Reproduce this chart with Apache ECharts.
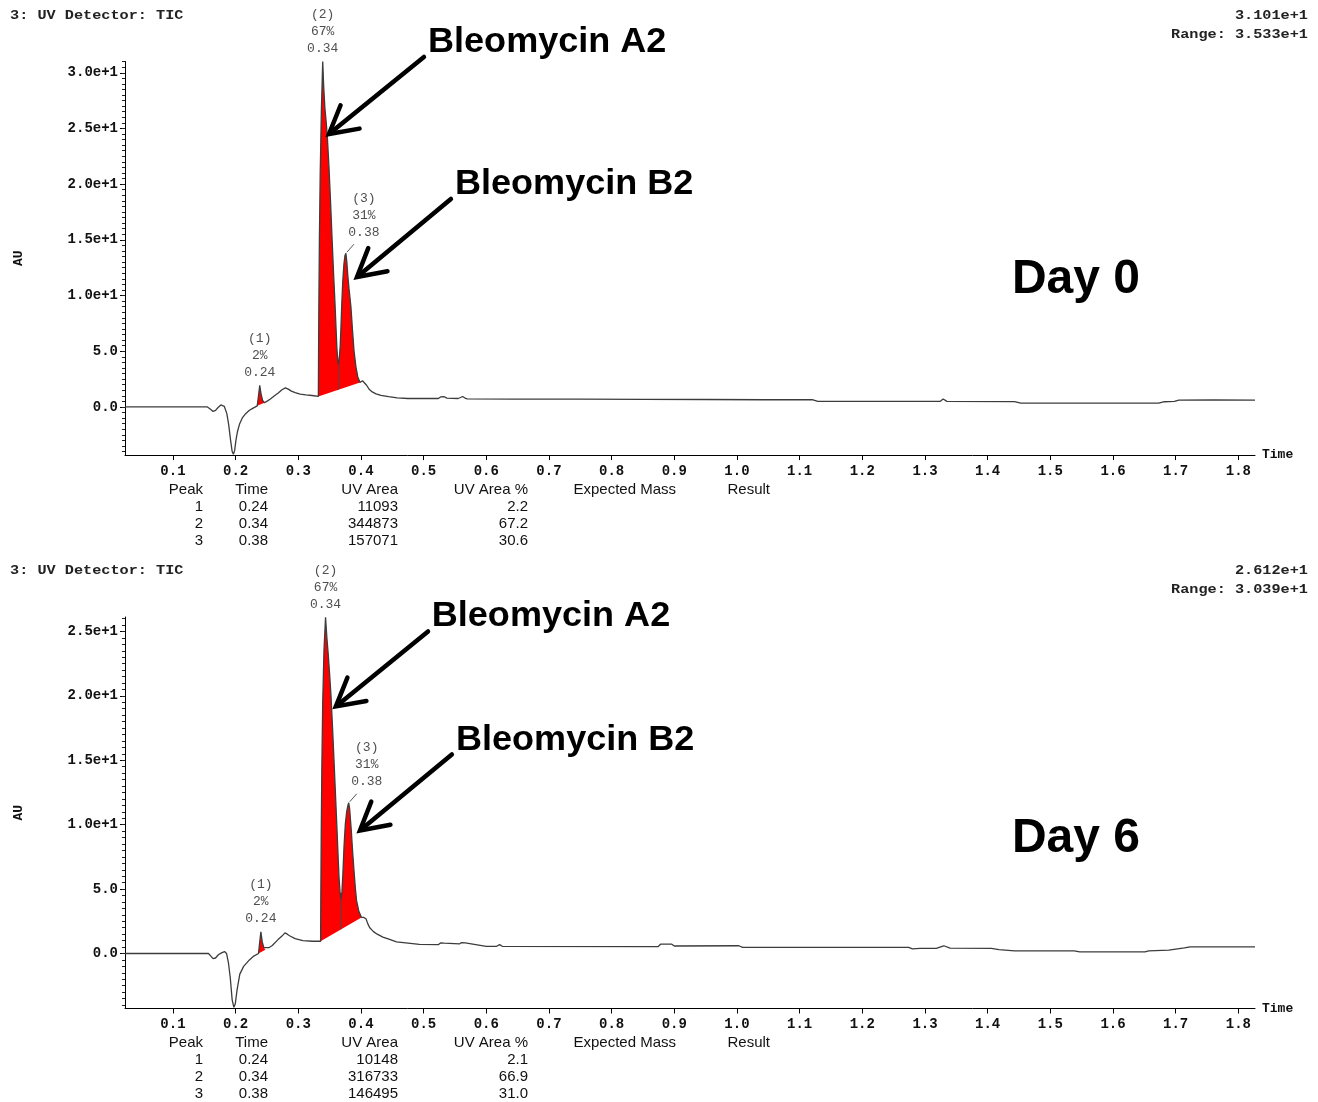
<!DOCTYPE html>
<html><head><meta charset="utf-8">
<script src="https://cdn.jsdelivr.net/npm/echarts@6/dist/echarts.min.js"></script>
<style>html,body{margin:0;padding:0;background:#fff}#c{width:1318px;height:1102px}</style>
</head><body><div id="c"></div><script>
// ---------------- DATA ----------------
const xTickValues = [0.1,0.2,0.3,0.4,0.5,0.6,0.7,0.8,0.9,1.0,1.1,1.2,1.3,1.4,1.5,1.6,1.7,1.8];
const xTickLabels = ['0.1','0.2','0.3','0.4','0.5','0.6','0.7','0.8','0.9','1.0','1.1','1.2','1.3','1.4','1.5','1.6','1.7','1.8'];
const timeMin = 0.0235, timeMax = 1.8266;

const day0YTickValues = [0,5,10,15,20,25,30];
const day0YTickLabels = ['0.0','5.0','1.0e+1','1.5e+1','2.0e+1','2.5e+1','3.0e+1'];
const day6YTickValues = [0,5,10,15,20,25];
const day6YTickLabels = ['0.0','5.0','1.0e+1','1.5e+1','2.0e+1','2.5e+1'];
const day0YMin = -4.32, day0YMax = 31.01;
const day6YMin = -4.27, day6YMax = 26.12;

const day0Trace = [
[0.0235,0.0],[0.068,0.0],[0.0695,0.12],[0.071,0.0],[0.155,0.0],[0.160,-0.2],[0.164,-0.4],[0.168,-0.3],
[0.172,-0.05],[0.1765,0.18],[0.179,0.2],[0.182,0.05],[0.186,-0.6],[0.189,-1.6],[0.192,-3.0],[0.1945,-4.0],
[0.1965,-4.25],[0.1985,-3.9],[0.2005,-3.0],[0.203,-2.2],[0.2065,-1.5],[0.211,-0.95],[0.216,-0.6],[0.222,-0.3],
[0.228,-0.1],[0.2345,0.1],[0.2365,1.0],[0.2385,1.95],[0.2405,1.2],[0.243,0.6],[0.246,0.38],[0.251,0.55],
[0.2555,0.72],[0.262,1.0],[0.268,1.25],[0.274,1.55],[0.2795,1.72],[0.284,1.6],[0.289,1.42],[0.295,1.28],
[0.303,1.15],[0.312,1.08],[0.322,1.03],[0.332,0.95],[0.3323,4.0],[0.3328,9.0],[0.3337,15.0],[0.335,21.0],
[0.3368,26.5],[0.339,31.0],[0.3405,28.8],[0.3425,26.8],[0.3445,25.6],[0.3464,24.2],[0.349,21.5],[0.3515,18.4],
[0.354,15.0],[0.3563,12.0],[0.3585,9.4],[0.3603,7.0],[0.3617,5.2],[0.363,4.2],[0.364,3.8],[0.3655,4.4],
[0.3668,5.4],[0.368,7.0],[0.3695,9.4],[0.371,11.3],[0.3728,12.8],[0.3745,13.6],[0.376,13.8],[0.3775,13.0],
[0.379,11.8],[0.381,10.6],[0.384,9.0],[0.3865,6.9],[0.389,5.0],[0.392,3.6],[0.395,2.7],[0.3985,2.2],
[0.4025,2.35],[0.4055,2.35],[0.409,1.95],[0.413,1.6],[0.418,1.35],
[0.424,1.18],[0.432,1.05],[0.444,0.93],[0.458,0.82],[0.475,0.76],[0.5235,0.76],[0.527,0.9],[0.53,1.06],
[0.533,0.92],[0.537,0.8],[0.555,0.76],[0.559,0.85],[0.5622,0.94],[0.566,0.8],[0.5695,0.73],[0.65,0.71],
[0.75,0.7],[0.85,0.68],[0.95,0.67],[1.045,0.65],[1.047,0.58],[1.05,0.65],[1.12,0.65],[1.129,0.5],
[1.324,0.5],[1.329,0.72],[1.335,0.5],[1.443,0.48],[1.453,0.35],[1.673,0.35],[1.682,0.47],[1.698,0.5],
[1.705,0.62],[1.76,0.63],[1.8266,0.62]
];

const day6Trace = [
[0.0235,0.0],[0.1567,0.0],[0.1605,-0.2],[0.164,-0.4],[0.168,-0.35],[0.1725,-0.1],[0.1775,0.05],[0.1823,0.15],
[0.1855,0.0],[0.1885,-0.7],[0.1915,-1.9],[0.1945,-3.6],[0.1972,-4.18],[0.1995,-3.9],[0.2024,-2.8],[0.2067,-1.6],
[0.2128,-1.0],[0.222,-0.5],[0.229,-0.2],[0.2365,0.0],[0.2385,0.9],[0.2403,1.68],[0.2425,0.9],[0.245,0.45],
[0.2475,0.3],[0.253,0.45],[0.2585,0.62],[0.2677,1.08],[0.274,1.35],[0.2787,1.6],[0.2825,1.5],[0.286,1.38],
[0.295,1.15],[0.3073,1.0],[0.3226,0.95],[0.3356,0.95],[0.336,4.5],[0.3366,9.0],[0.3376,14.5],[0.339,19.5],
[0.341,23.5],[0.3435,26.1],[0.3455,24.6],[0.3478,23.2],[0.35,21.7],[0.3522,20.0],[0.3546,17.6],[0.357,15.0],
[0.3594,12.3],[0.3618,9.6],[0.3635,7.6],[0.365,5.9],[0.3666,4.8],[0.3682,4.2],[0.3697,4.8],[0.3712,6.2],
[0.373,8.3],[0.375,10.0],[0.3772,11.0],[0.3792,11.5],[0.3805,11.7],[0.382,11.2],[0.3845,9.6],[0.3866,8.0],
[0.3888,6.5],[0.391,5.1],[0.393,4.1],[0.3965,3.3],[0.4008,2.8],[0.404,2.8],[0.408,2.7],
[0.411,2.3],[0.414,2.0],[0.42,1.7],[0.426,1.5],[0.435,1.27],[0.4445,1.12],[0.4567,0.9],[0.4933,0.7],
[0.5238,0.69],[0.527,0.82],[0.53,0.92],[0.533,0.8],[0.536,0.74],[0.557,0.74],[0.5605,0.85],[0.5634,0.95],
[0.5665,0.82],[0.5695,0.74],[0.6,0.56],[0.6165,0.56],[0.6213,0.69],[0.6255,0.56],[0.6274,0.53],[0.874,0.53],
[0.878,0.72],[0.896,0.72],[0.9,0.58],[1.003,0.6],[1.009,0.47],[1.274,0.47],[1.28,0.36],[1.292,0.4],
[1.318,0.4],[1.33,0.6],[1.34,0.42],[1.406,0.4],[1.418,0.3],[1.443,0.21],[1.538,0.21],[1.547,0.13],
[1.651,0.13],[1.657,0.21],[1.689,0.26],[1.714,0.44],[1.723,0.52],[1.8266,0.52]
];

// integrated peaks (start / end of the red areas, drop line at valley)
const day0FillStart = [0.2345, 0.332];
const day0FillEnd = [0.246, 0.3985];
const day0Dividers = [0.364];
const day6FillStart = [0.2365, 0.3356];
const day6FillEnd = [0.2475, 0.4008];
const day6Dividers = [0.3682];

// peak apex labels
const day0PeakTimes = [0.2385, 0.339, 0.376];
const day0PeakHeights = [1.95, 31.0, 13.8];
const day6PeakTimes = [0.2403, 0.3435, 0.3805];
const day6PeakHeights = [1.68, 26.1, 11.7];
const peakNums = ['(1)','(2)','(3)'];
const day0PeakPct = ['2%','67%','31%'];
const day6PeakPct = ['2%','67%','31%'];
const peakRT = ['0.24','0.34','0.38'];

// results tables
const tableHeaders = ['Peak','Time','UV Area','UV Area %','Expected Mass','Result'];
const tablePeak = ['1','2','3'];
const day0TableTime = ['0.24','0.34','0.38'];
const day0TableArea = ['11093','344873','157071'];
const day0TablePct = ['2.2','67.2','30.6'];
const day6TableTime = ['0.24','0.34','0.38'];
const day6TableArea = ['10148','316733','146495'];
const day6TablePct = ['2.1','66.9','31.0'];

const detectorTitle = '3: UV Detector: TIC';
const day0TopValue = '3.101e+1', day0Range = 'Range: 3.533e+1';
const day6TopValue = '2.612e+1', day6Range = 'Range: 3.039e+1';
const compoundA = 'Bleomycin A2', compoundB = 'Bleomycin B2';
const dayLabels = ['Day 0', 'Day 6'];

// ---------------- CHART ----------------
const MONO = '"Liberation Mono", "DejaVu Sans Mono", monospace';
const SANS = '"Liberation Sans", Arial, sans-serif';
const chart = echarts.init(document.getElementById('c'), null, {renderer: 'canvas'});

function fmtFrom(values, labels) {
  return v => { const i = values.findIndex(t => Math.abs(t - v) < 1e-6); return i >= 0 ? labels[i] : ''; };
}
function minorList(lo, hi) { const a = []; for (let v = lo; v <= hi + 1e-9; v += 0.5) a.push(+v.toFixed(2)); return a; }
function interp(trace, t) {
  for (let i = 0; i < trace.length - 1; i++) {
    const a = trace[i], b = trace[i + 1];
    if (t >= a[0] && t <= b[0]) return a[1] + (b[1] - a[1]) * (t - a[0]) / (b[0] - a[0]);
  }
  return trace[trace.length - 1][1];
}

const grids = [
  {left: 125, top: 61.5, width: 1130, height: 393.6, outerBoundsMode: 'none'},
  {left: 125, top: 617, width: 1130, height: 391.5, outerBoundsMode: 'none'}
];

function xAxisFor(g) {
  return {
    type: 'value', gridIndex: g, min: timeMin, max: timeMax,
    axisLine: {show: true, onZero: false, lineStyle: {color: '#000', width: 1}},
    axisTick: {show: true, customValues: xTickValues, length: 5, lineStyle: {color: '#000'}},
    axisLabel: {show: true, customValues: xTickValues, formatter: fmtFrom(xTickValues, xTickLabels),
      margin: 9, fontFamily: MONO, fontWeight: 'bold', fontSize: 14, color: '#111'},
    splitLine: {show: false},
    name: 'Time', nameLocation: 'end', nameGap: 7,
    nameTextStyle: {fontFamily: MONO, fontWeight: 'bold', fontSize: 13, color: '#111', verticalAlign: 'middle'}
  };
}
function yAxisFor(g, mn, mx, vals, labs) {
  return {
    type: 'value', gridIndex: g, min: mn, max: mx, position: 'left',
    axisLine: {show: true, onZero: false, lineStyle: {color: '#000', width: 1}},
    axisTick: {show: true, customValues: vals, length: 5, lineStyle: {color: '#000'}},
    axisLabel: {show: true, customValues: vals, formatter: fmtFrom(vals, labs), margin: 7,
      fontFamily: MONO, fontWeight: 'bold', fontSize: 14, color: '#111'},
    splitLine: {show: false},
    name: 'AU', nameLocation: 'middle', nameGap: 100, nameRotate: 90,
    nameTextStyle: {fontFamily: MONO, fontWeight: 'bold', fontSize: 13, color: '#111'}
  };
}
function yMinorFor(g, mn, mx) {
  return {
    type: 'value', gridIndex: g, min: mn, max: mx, position: 'left', offset: 0,
    axisLine: {show: false, onZero: false},
    axisTick: {show: true, customValues: minorList(Math.ceil(mn), Math.floor(mx)), length: 3, lineStyle: {color: '#222'}},
    axisLabel: {show: false}, splitLine: {show: false}
  };
}

function fillRenderer(trace, dividers) {
  return function (params, api) {
    const s = api.value(0), e = api.value(1);
    const vs = interp(trace, s), ve = interp(trace, e);
    const pts = [api.coord([s, vs])];
    trace.forEach(p => { if (p[0] > s && p[0] < e) pts.push(api.coord(p)); });
    pts.push(api.coord([e, ve]));
    const children = [{type: 'polygon', shape: {points: pts}, style: {fill: '#ff0000', stroke: null}}];
    dividers.forEach(d => {
      if (d > s && d < e) {
        const top = api.coord([d, interp(trace, d)]);
        const bot = api.coord([d, vs + (ve - vs) * (d - s) / (e - s)]);
        children.push({type: 'line', shape: {x1: top[0], y1: top[1], x2: bot[0], y2: bot[1]},
          style: {stroke: '#4a4a4a', lineWidth: 1}});
      }
    });
    return {type: 'group', children};
  };
}

function peakLabelSeries(g, times, heights, pct) {
  return {
    type: 'scatter', xAxisIndex: g, yAxisIndex: g * 2, silent: true, z: 5,
    symbolSize: 1, itemStyle: {color: 'rgba(0,0,0,0)'},
    data: times.map((t, i) => ({value: [t, heights[i]],
      label: {offset: i === 2 ? [18, -8] : [0, 0], formatter: peakNums[i] + '\n' + pct[i] + '\n' + peakRT[i]}})),
    label: {show: true, position: 'top', distance: 4, fontFamily: MONO, fontSize: 13, lineHeight: 17,
      color: '#222', align: 'center'}
  };
}

const option = {
  animation: false,
  backgroundColor: '#fff',
  grid: grids,
  xAxis: [xAxisFor(0), xAxisFor(1)],
  yAxis: [
    yAxisFor(0, day0YMin, day0YMax, day0YTickValues, day0YTickLabels),
    yMinorFor(0, day0YMin, day0YMax),
    yAxisFor(1, day6YMin, day6YMax, day6YTickValues, day6YTickLabels),
    yMinorFor(1, day6YMin, day6YMax)
  ],
  series: [
    {type: 'custom', xAxisIndex: 0, yAxisIndex: 0, silent: true, z: 1,
     data: day0FillStart.map((s, i) => [s, day0FillEnd[i]]), encode: {x: [0, 1]},
     renderItem: fillRenderer(day0Trace, day0Dividers)},
    {type: 'line', xAxisIndex: 0, yAxisIndex: 0, data: day0Trace, showSymbol: false, silent: true, z: 3,
     lineStyle: {color: '#3c3c3c', width: 1.3}},
    peakLabelSeries(0, day0PeakTimes, day0PeakHeights, day0PeakPct),
    {type: 'custom', xAxisIndex: 1, yAxisIndex: 2, silent: true, z: 1,
     data: day6FillStart.map((s, i) => [s, day6FillEnd[i]]), encode: {x: [0, 1]},
     renderItem: fillRenderer(day6Trace, day6Dividers)},
    {type: 'line', xAxisIndex: 1, yAxisIndex: 2, data: day6Trace, showSymbol: false, silent: true, z: 3,
     lineStyle: {color: '#3c3c3c', width: 1.3}},
    peakLabelSeries(1, day6PeakTimes, day6PeakHeights, day6PeakPct)
  ]
};
chart.setOption(option);

// ---------------- ANNOTATIONS ----------------
const gfx = [];
function txt(x, y, text, font, align, fill, scaleX) {
  gfx.push({type: 'text', x, y, scaleX: scaleX || 1, silent: true, z: 10,
    style: {text, font, fill: fill || '#111', align: align || 'left', verticalAlign: 'middle'}});
}
function arrow(gi, tail, tip) {
  const fin = {xAxisIndex: gi, yAxisIndex: gi * 2};
  const a = chart.convertToPixel(fin, tail), b = chart.convertToPixel(fin, tip);
  const dx = a[0] - b[0], dy = a[1] - b[1], L = Math.hypot(dx, dy), ux = dx / L, uy = dy / L;
  const th = 29 * Math.PI / 180, len = 31;
  const r = (c, s) => [b[0] + len * (ux * c - uy * s), b[1] + len * (ux * s + uy * c)];
  const p1 = r(Math.cos(th), Math.sin(th)), p2 = r(Math.cos(-th), Math.sin(-th));
  gfx.push({type: 'line', silent: true, z: 10, shape: {x1: a[0], y1: a[1], x2: b[0] + ux * 2, y2: b[1] + uy * 2},
    style: {stroke: '#000', lineWidth: 4.5, lineCap: 'round'}});
  gfx.push({type: 'polyline', silent: true, z: 10, shape: {points: [p1, b, p2]},
    style: {stroke: '#000', lineWidth: 4.5, lineCap: 'round', lineJoin: 'miter', fill: null}});
}
function dataText(gi, pos, text, font, sx) {
  const p = chart.convertToPixel({xAxisIndex: gi, yAxisIndex: gi * 2}, pos);
  txt(p[0], p[1], text, font, 'left', '#000', sx);
}
function leader(gi, t, h) {
  const p = chart.convertToPixel({xAxisIndex: gi, yAxisIndex: gi * 2}, [t, h]);
  gfx.push({type: 'line', silent: true, z: 6, shape: {x1: p[0] + 1, y1: p[1] - 1, x2: p[0] + 8, y2: p[1] - 9},
    style: {stroke: '#555', lineWidth: 1}});
}

const bigFont = 'bold 35px ' + SANS;
const dayFont = 'bold 48px ' + SANS;
// Day 0 panel
dataText(0, [0.507, 32.76], compoundA, bigFont, 1.03);
arrow(0, [0.5005, 31.42], [0.349, 24.5]);
dataText(0, [0.55, 20.0], compoundB, bigFont, 1.03);
arrow(0, [0.5435, 18.67], [0.3937, 11.67]);
dataText(0, [1.4387, 11.4], dayLabels[0], dayFont);
leader(0, day0PeakTimes[2], day0PeakHeights[2]);
// Day 6 panel
dataText(1, [0.513, 26.16], compoundA, bigFont, 1.03);
arrow(1, [0.507, 25.0], [0.36, 19.18]);
dataText(1, [0.5516, 16.54], compoundB, bigFont, 1.03);
arrow(1, [0.545, 15.45], [0.3984, 9.55]);
dataText(1, [1.4387, 8.93], dayLabels[1], dayFont);
leader(1, day6PeakTimes[2], day6PeakHeights[2]);

// headers
const monoHdr = 'bold 13px ' + MONO;
txt(10, 16, detectorTitle, monoHdr, 'left', '#222', 1.17);
txt(1308, 16, day0TopValue, monoHdr, 'right', '#222', 1.17);
txt(1308, 35, day0Range, monoHdr, 'right', '#222', 1.17);
txt(10, 571, detectorTitle, monoHdr, 'left', '#222', 1.17);
txt(1308, 571, day6TopValue, monoHdr, 'right', '#222', 1.17);
txt(1308, 590, day6Range, monoHdr, 'right', '#222', 1.17);

// tables
const colRight = [203, 268, 398, 528, 676, 770];
function table(y0, times, areas, pcts) {
  const f = '15px ' + SANS;
  tableHeaders.forEach((h, i) => txt(colRight[i], y0, h, f, 'right', '#111'));
  tablePeak.forEach((p, r) => {
    const y = y0 + 17 * (r + 1);
    txt(colRight[0], y, p, f, 'right', '#111');
    txt(colRight[1], y, times[r], f, 'right', '#111');
    txt(colRight[2], y, areas[r], f, 'right', '#111');
    txt(colRight[3], y, pcts[r], f, 'right', '#111');
  });
}
table(490, day0TableTime, day0TableArea, day0TablePct);
table(1043, day6TableTime, day6TableArea, day6TablePct);

chart.setOption({graphic: {elements: gfx}});
</script></body></html>
